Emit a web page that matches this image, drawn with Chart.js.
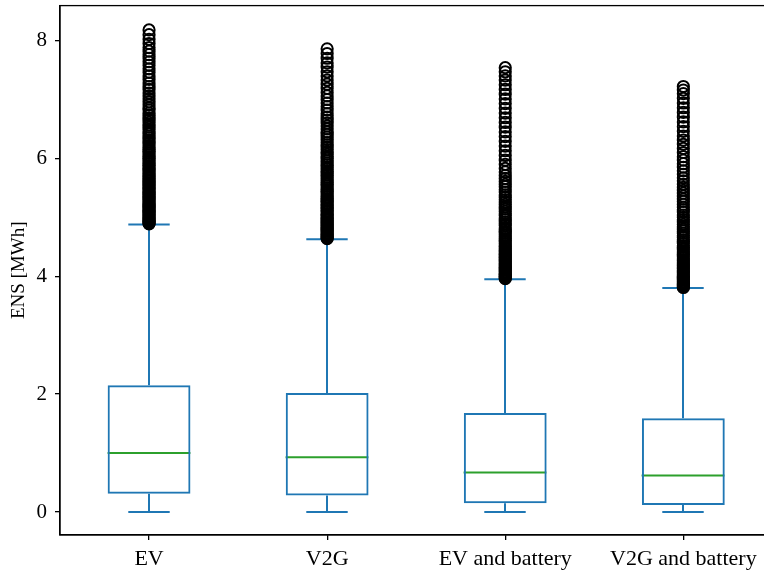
<!DOCTYPE html>
<html>
<head>
<meta charset="utf-8">
<script src="https://cdn.jsdelivr.net/npm/chart.js@4"></script>
<style>
  html, body { margin: 0; padding: 0; background: #fff; overflow: hidden; }
  #boxChart { display: block; margin-top: -2px; }
</style>
</head>
<body>
<canvas id="boxChart" width="780" height="573"></canvas>
<script>
// box statistics (MWh)
const categories = ['EV', 'V2G', 'EV and battery', 'V2G and battery'];
const q1 = [0.31, 0.28, 0.15, 0.12];
const medians = [1.00, 0.93, 0.67, 0.62];
const q3 = [2.15, 2.02, 1.68, 1.59];
const whiskerLow = [0, 0, 0, 0];
const whiskerHigh = [4.88, 4.63, 3.95, 3.80];
const yTicks = [0, 2, 4, 6, 8];

// outliers (fliers), one list per category
const fliersEV = [4.89, 4.90, 4.92, 4.93, 4.95, 4.97, 4.99, 5.01, 5.03, 5.05, 5.07, 5.09, 5.11, 5.13, 5.15,
  5.17, 5.19, 5.21, 5.23, 5.25, 5.27, 5.30, 5.32, 5.34, 5.36, 5.39, 5.41, 5.43, 5.46, 5.48, 5.51, 5.53,
  5.56, 5.58, 5.61, 5.63, 5.66, 5.69, 5.71, 5.74, 5.77, 5.80, 5.82, 5.85, 5.88, 5.91, 5.94, 5.97, 6.00,
  6.03, 6.06, 6.09, 6.12, 6.15, 6.18, 6.21, 6.25, 6.28, 6.31, 6.35, 6.38, 6.42, 6.45, 6.49, 6.53, 6.57,
  6.61, 6.65, 6.69, 6.73, 6.77, 6.82, 6.86, 6.91, 6.96, 7.01, 7.06, 7.11, 7.17, 7.22, 7.28, 7.34, 7.40,
  7.46, 7.52, 7.58, 7.64, 7.70, 7.76, 7.82, 7.88, 7.95, 8.02, 8.10, 8.18];
const fliersV2G = [4.64, 4.65, 4.67, 4.68, 4.70, 4.72, 4.74, 4.76, 4.78, 4.80, 4.82, 4.84, 4.86, 4.88, 4.90,
  4.92, 4.95, 4.97, 4.99, 5.02, 5.04, 5.06, 5.09, 5.11, 5.14, 5.16, 5.19, 5.21, 5.24, 5.27, 5.29, 5.32,
  5.35, 5.38, 5.41, 5.44, 5.47, 5.50, 5.53, 5.56, 5.59, 5.62, 5.65, 5.68, 5.72, 5.75, 5.78, 5.82, 5.85,
  5.89, 5.92, 5.96, 6.00, 6.03, 6.07, 6.11, 6.15, 6.19, 6.23, 6.27, 6.32, 6.36, 6.41, 6.45, 6.50, 6.55,
  6.60, 6.65, 6.70, 6.76, 6.82, 6.88, 6.94, 7.00, 7.06, 7.12, 7.19, 7.26, 7.33, 7.40, 7.47, 7.55, 7.62,
  7.70, 7.78, 7.86];
const fliersEVBat = [3.96, 3.97, 3.99, 4.00, 4.02, 4.04, 4.06, 4.08, 4.10, 4.12, 4.14, 4.16, 4.18, 4.20, 4.22,
  4.25, 4.27, 4.29, 4.32, 4.34, 4.37, 4.39, 4.42, 4.44, 4.47, 4.50, 4.52, 4.55, 4.58, 4.61, 4.64, 4.67,
  4.70, 4.73, 4.76, 4.79, 4.82, 4.86, 4.89, 4.92, 4.96, 4.99, 5.03, 5.06, 5.10, 5.14, 5.18, 5.22, 5.26,
  5.30, 5.34, 5.38, 5.43, 5.47, 5.52, 5.56, 5.61, 5.66, 5.71, 5.77, 5.83, 5.90, 5.97, 6.05, 6.13, 6.21,
  6.29, 6.37, 6.45, 6.53, 6.61, 6.69, 6.77, 6.85, 6.93, 7.01, 7.09, 7.17, 7.25, 7.33, 7.40, 7.47, 7.54];
const fliersV2GBat = [3.81, 3.82, 3.84, 3.85, 3.87, 3.89, 3.91, 3.93, 3.95, 3.97, 3.99, 4.01, 4.03, 4.06, 4.08,
  4.10, 4.13, 4.15, 4.18, 4.20, 4.23, 4.26, 4.28, 4.31, 4.34, 4.37, 4.40, 4.43, 4.46, 4.49, 4.52, 4.56,
  4.59, 4.62, 4.66, 4.69, 4.73, 4.77, 4.80, 4.84, 4.88, 4.92, 4.96, 5.00, 5.04, 5.09, 5.13, 5.17, 5.22,
  5.27, 5.31, 5.36, 5.41, 5.46, 5.51, 5.56, 5.62, 5.67, 5.73, 5.79, 5.85, 5.91, 5.97, 6.03, 6.10, 6.17,
  6.24, 6.31, 6.38, 6.46, 6.54, 6.62, 6.70, 6.78, 6.86, 6.94, 7.02, 7.10, 7.16, 7.22];
const fliers = [fliersEV, fliersV2G, fliersEVBat, fliersV2GBat];

const BLUE = '#1f77b4';
const GREEN = '#2ca02c';
const SERIF = '"Liberation Serif", "Times New Roman", serif';

// whiskers, caps, medians + frame, drawn with the chart scales
const boxParts = {
  id: 'boxParts',
  beforeDatasetsDraw(chart) {
    const ctx = chart.ctx;
    const xs = chart.scales.x, ys = chart.scales.y;
    const bars = chart.getDatasetMeta(0).data;
    ctx.save();
    ctx.lineWidth = 2;
    categories.forEach((c, i) => {
      const x = Math.round(xs.getPixelForValue(i));
      const half = bars[i].width / 2;
      ctx.strokeStyle = BLUE;
      ctx.beginPath();
      ctx.moveTo(x, ys.getPixelForValue(q1[i]));
      ctx.lineTo(x, ys.getPixelForValue(whiskerLow[i]));
      ctx.moveTo(x, ys.getPixelForValue(q3[i]));
      ctx.lineTo(x, ys.getPixelForValue(whiskerHigh[i]));
      ctx.moveTo(x - half / 2, ys.getPixelForValue(whiskerLow[i]));
      ctx.lineTo(x + half / 2, ys.getPixelForValue(whiskerLow[i]));
      ctx.moveTo(x - half / 2, ys.getPixelForValue(whiskerHigh[i]));
      ctx.lineTo(x + half / 2, ys.getPixelForValue(whiskerHigh[i]));
      ctx.stroke();
      ctx.strokeStyle = GREEN;
      ctx.beginPath();
      ctx.moveTo(x - half, ys.getPixelForValue(medians[i]));
      ctx.lineTo(x + half, ys.getPixelForValue(medians[i]));
      ctx.stroke();
    });
    ctx.restore();
  },
  afterDraw(chart) {
    const a = chart.chartArea, ctx = chart.ctx;
    ctx.save();
    ctx.strokeStyle = '#000';
    ctx.lineWidth = 1.3;
    ctx.strokeRect(a.left, a.top, a.right - a.left, a.bottom - a.top);
    ctx.restore();
  }
};

const flierPoints = [];
fliers.forEach((list, i) => list.forEach(v => flierPoints.push({ x: categories[i], y: v })));

new Chart(document.getElementById('boxChart'), {
  type: 'bar',
  data: {
    labels: categories,
    datasets: [
      {
        label: 'box',
        data: categories.map((c, i) => [q1[i], q3[i]]),
        backgroundColor: 'rgba(0,0,0,0)',
        borderColor: BLUE,
        borderWidth: 2,
        borderSkipped: false,
        barPercentage: 0.465,
        categoryPercentage: 1,
        grouped: false,
        order: 2
      },
      {
        type: 'scatter',
        label: 'fliers',
        data: flierPoints,
        pointStyle: 'circle',
        pointRadius: 5.6,
        pointBorderWidth: 2,
        pointBorderColor: '#000',
        pointBackgroundColor: 'rgba(0,0,0,0)',
        order: 1
      }
    ]
  },
  options: {
    responsive: false,
    animation: false,
    events: [],
    layout: { padding: { top: 3, right: 1, left: 0, bottom: 0 } },
    scales: {
      x: {
        type: 'category',
        offset: true,
        grid: { display: true, drawOnChartArea: false, drawTicks: true, tickLength: 5, color: '#000', offset: false, lineWidth: 1.3 },
        border: { color: '#000', width: 1.3 },
        ticks: { color: '#000', font: { family: SERIF, size: 22 }, padding: 6, maxRotation: 0, autoSkip: false },
        afterFit(scale) { scale.height = 36; scale.paddingLeft = 0; scale.paddingRight = 0; }
      },
      y: {
        min: -0.39,
        max: 8.593,
        afterBuildTicks(scale) { scale.ticks = yTicks.map(v => ({ value: v })); },
        grid: { display: true, drawOnChartArea: false, drawTicks: true, tickLength: 5, color: '#000', lineWidth: 1.3 },
        border: { color: '#000', width: 1.3 },
        ticks: { color: '#000', font: { family: SERIF, size: 21 }, padding: 8 },
        title: { display: true, text: 'ENS [MWh]', color: '#000', font: { family: SERIF, size: 19 }, padding: { top: 8, bottom: 0 } },
        afterFit(scale) { scale.width = 60; scale.paddingTop = 0; scale.paddingBottom = 0; }
      }
    },
    plugins: {
      legend: { display: false },
      tooltip: { enabled: false },
      title: { display: false }
    }
  },
  plugins: [boxParts]
});
</script>
</body>
</html>
